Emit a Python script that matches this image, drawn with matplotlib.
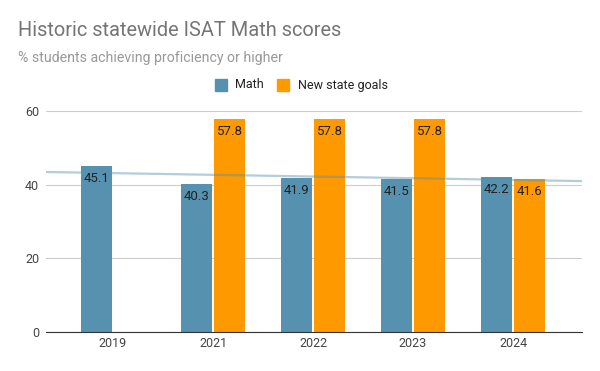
import numpy as np
import matplotlib.pyplot as plt

years = ['2019', '2021', '2022', '2023', '2024']
math_scores = [45.1, 40.3, 41.9, 41.5, 42.2]
state_goals = [None, 57.8, 57.8, 57.8, 41.6]

plt.rcParams['font.family'] = ['Roboto', 'DejaVu Sans']

fig = plt.figure(figsize=(6, 3.71), dpi=100)
ax = fig.add_axes([0.0767, 0.105, 0.8933, 0.596])

x = np.arange(len(years))
w = 0.31
off = 0.165

blue = '#5691b0'
orange = '#ff9900'

for i in x:
    ax.bar(i - off, math_scores[i], width=w, color=blue, zorder=2)
    ax.text(i - off, math_scores[i] - 3.4, f'{math_scores[i]:.1f}', ha='center', va='center',
            fontsize=9.5, color='#222222', zorder=4)
    if state_goals[i] is not None:
        ax.bar(i + off, state_goals[i], width=w, color=orange, zorder=2)
        ax.text(i + off, state_goals[i] - 3.4, f'{state_goals[i]:.1f}', ha='center', va='center',
                fontsize=9.5, color='#222222', zorder=4)

# linear trendline on Math series
xlim = (-0.67, 4.69)
k, b = np.polyfit(x, math_scores, 1)
tx = np.array(xlim)
ax.plot(tx, k * tx + b, color=blue, alpha=0.45, lw=1.6, zorder=3)

ax.set_xlim(*xlim)
ax.set_ylim(0, 60)
ax.set_yticks([0, 20, 40, 60])
ax.set_xticks(x)
ax.set_xticklabels(years)
ax.tick_params(length=0, labelsize=9, colors='#444444')
ax.tick_params(axis='y', pad=5)
ax.grid(axis='y', color='#cccccc', lw=0.8, zorder=0)
for s in ['top', 'right', 'left']:
    ax.spines[s].set_visible(False)
ax.spines['bottom'].set_color('#333333')
ax.spines['bottom'].set_zorder(3)

fig.text(0.03, 1 - 31/371, 'Historic statewide ISAT Math scores', fontsize=14.4, color='#757575', va='center')
fig.text(0.03, 1 - 58/371, '% students achieving proficiency or higher', fontsize=10.2, color='#999999', va='center')

# legend
fig.patches.append(plt.Rectangle((215/600, 1 - 91/371), 12/600, 12/371, color=blue, transform=fig.transFigure))
fig.text(235/600, 1 - 85/371, 'Math', fontsize=9, color='#222222', va='center')
fig.patches.append(plt.Rectangle((277/600, 1 - 91/371), 12/600, 12/371, color=orange, transform=fig.transFigure))
fig.text(298/600, 1 - 85/371, 'New state goals', fontsize=9, color='#222222', va='center')

fig.savefig('out.png', dpi=100)
